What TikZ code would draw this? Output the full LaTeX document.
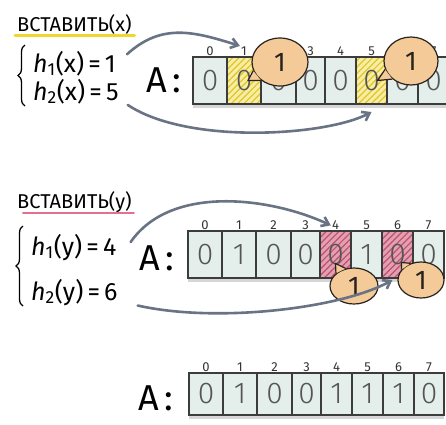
\documentclass[tikz,border=0pt]{standalone}
\usepackage{fontspec}
\setmainfont{Fira Sans}
\newfontfamily\thinfont{Fira Sans Light}
\usepackage{tikz}
\usetikzlibrary{arrows.meta, positioning, shapes.geometric, patterns.meta, decorations.pathreplacing, fit, backgrounds}
\definecolor{cellfill}{RGB}{228,238,234}
\definecolor{cellline}{RGB}{60,60,60}
\definecolor{digit}{RGB}{85,85,85}
\definecolor{xbg}{RGB}{247,238,165}
\definecolor{xline}{RGB}{226,196,40}
\definecolor{ybg}{RGB}{226,160,176}
\definecolor{yline}{RGB}{190,80,112}
\definecolor{bubfill}{RGB}{244,202,152}
\definecolor{bubline}{RGB}{40,35,30}
\definecolor{arrowc}{RGB}{105,115,132}
\definecolor{markx}{RGB}{240,215,45}
\definecolor{marky}{RGB}{228,112,142}
\tikzset{
  cell/.style={rectangle, draw=cellline, line width=1.1pt, fill=cellfill, minimum height=47pt,
               inner sep=0pt, outer sep=0pt, text=digit, font=\thinfont\fontsize{30}{32}\selectfont,
               label distance=1pt},
  hitx/.style={cell, fill=xbg, postaction={pattern={Lines[angle=45, distance=4.5pt, line width=1.2pt]},
               pattern color=xline}, postaction={draw=cellline, line width=1.1pt}},
  hity/.style={cell, fill=ybg, postaction={pattern={Lines[angle=45, distance=4.5pt, line width=1.2pt]},
               pattern color=yline}, postaction={draw=cellline, line width=1.1pt}},
  idx/.style={inner sep=1pt, text=black!80, font=\fontsize{13}{14}\selectfont},
  bub/.style={ellipse, draw=bubline, line width=1.2pt, fill=bubfill, inner sep=0pt,
              text=bubline, font=\fontsize{27}{29}\selectfont},
  bubedge/.style={draw=bubline, line width=1.2pt, line join=round},
  ptr/.style={-{Straight Barb[length=7pt, width=10pt]}, line width=2.6pt, draw=arrowc, line cap=round},
  title/.style={inner sep=0pt, font=\fontsize{20}{22}\selectfont},
  formula/.style={inner sep=0pt, font=\fontsize{25}{27}\selectfont},
  bigA/.style={inner sep=0pt, font=\fontsize{36}{38}\selectfont},
  brace/.style={decorate, decoration={brace, amplitude=7pt}, line width=1.3pt},
  rowshade/.style={fill=black!16, inner sep=0pt, yshift=-4pt},
}

\begin{document}
\begin{tikzpicture}[x=1pt, y=-1pt]
\useasboundingbox (0,0) rectangle (446,424);

% ========== вставить(x) ==========
\node[title, anchor=base west] (insx) at (17,31) {ВСТАВИТЬ(x)};
\draw[draw=markx, line width=3pt, line cap=round] ([shift={(-2,4)}]insx.base west) -- ([shift={(3,4)}]insx.base east);

\node[formula, anchor=base west] (hx1) at (33,72) {\textit{h}\textsubscript{1}(x)\,=\,1};
\node[formula, anchor=base west] (hx2) at (33,100) {\textit{h}\textsubscript{2}(x)\,=\,5};
\draw[brace] (25,106) -- (25,45);

\node[bigA] (ax) at (164,80) {A\hspace{5pt}:};

% Tablica A (pierwszy wiersz)
\node[cell, minimum width=34pt, label={[idx, name=ix0]above:0}] (x0) at (210,80.5) {0};
\node[hitx, minimum width=34pt, right=0pt of x0, label={[idx, name=ix1]above:1}] (x1) {0};
\node[cell, minimum width=35pt, right=0pt of x1] (x2) {0};
\node[cell, minimum width=29pt, right=0pt of x2, label={[idx, name=ix3]above:3}] (x3) {0};
\node[cell, minimum width=31pt, right=0pt of x3, label={[idx, name=ix4]above:4}] (x4) {0};
\node[hitx, minimum width=31pt, right=0pt of x4, label={[idx, name=ix5]above:5}] (x5) {0};
\node[cell, minimum width=31pt, right=0pt of x5] (x6) {0};
\node[cell, minimum width=31pt, right=0pt of x6, label={[idx, name=ix7]above:7}] (x7) {0};
\begin{scope}[on background layer]
\node[rowshade, fit=(x0)(x7)] (shx) {};
\end{scope}

% Dymki z jedynkami
\node[bub, minimum width=56pt, minimum height=48pt] (bx1) at (280,62) {1};
\fill[bubfill] (bx1.198) -- ([xshift=4pt]x1.center) -- (bx1.224) -- cycle;
\draw[bubedge] (bx1.198) -- ([xshift=4pt]x1.center) -- (bx1.224);
\node[bub, minimum width=54pt, minimum height=48pt] (bx5) at (411,61) {1};
\fill[bubfill] (bx5.198) -- ([xshift=6pt]x5.center) -- (bx5.224) -- cycle;
\draw[bubedge] (bx5.198) -- ([xshift=6pt]x5.center) -- (bx5.224);

\draw[ptr] ([shift={(11,-9)}]hx1.east) .. controls +(35,-32) and +(-45,-14) .. (ix1.north west);
\draw[ptr] ([shift={(9,1)}]hx2.south east) .. controls +(60,40) and +(-45,24) .. ([yshift=-8pt]x5.south);

% ========== вставить(y) ==========
\node[title, anchor=base west] (insy) at (17,208) {ВСТАВИТЬ(y)};
\draw[draw=marky, line width=2pt, line cap=round] ([shift={(6,5)}]insy.base west) -- ([shift={(2,5)}]insy.base east);

\node[formula, anchor=base west] (hy1) at (31,255) {\textit{h}\textsubscript{1}(y)\,=\,4};
\node[formula, anchor=base west] (hy2) at (31,300) {\textit{h}\textsubscript{2}(y)\,=\,6};
\draw[brace] (23,306) -- (23,226);

\node[bigA] (ay) at (157,258) {A\hspace{5pt}:};

% Tablica A (drugi wiersz)
\node[cell, minimum width=34pt, label={[idx, name=iy0]above:0}] (y0) at (205,254.5) {0};
\node[cell, minimum width=34pt, right=0pt of y0, label={[idx, name=iy1]above:1}] (y1) {1};
\node[cell, minimum width=35pt, right=0pt of y1, label={[idx, name=iy2]above:2}] (y2) {0};
\node[cell, minimum width=29pt, right=0pt of y2, label={[idx, name=iy3]above:3}] (y3) {0};
\node[hity, minimum width=31pt, right=0pt of y3, label={[idx, name=iy4]above:4}] (y4) {0};
\node[cell, minimum width=31pt, right=0pt of y4, label={[idx, name=iy5]above:5}] (y5) {1};
\node[hity, minimum width=31pt, right=0pt of y5, label={[idx, name=iy6]above:6}] (y6) {0};
\node[cell, minimum width=31pt, right=0pt of y6, label={[idx, name=iy7]above:7}] (y7) {0};
\begin{scope}[on background layer]
\node[rowshade, fit=(y0)(y7)] (shy) {};
\end{scope}

\node[bub, minimum width=48pt, minimum height=36pt] (by4) at (354,286) {1};
\fill[bubfill] (by4.115) -- ([yshift=-9pt]y4.center) -- (by4.145) -- cycle;
\draw[bubedge] (by4.115) -- ([yshift=-9pt]y4.center) -- (by4.145);
\node[bub, minimum width=46pt, minimum height=36pt] (by6) at (421,280) {1};
\fill[bubfill] (by6.122) -- ([shift={(4,8)}]y6.center) -- (by6.152) -- cycle;
\draw[bubedge] (by6.122) -- ([shift={(4,8)}]y6.center) -- (by6.152);

\draw[ptr] ([shift={(14,-5)}]hy1.east) .. controls +(40,-58) and +(-60,-28) .. (iy4.west);
\draw[ptr] ([shift={(20,0)}]hy2.south east) .. controls +(80,18) and +(-50,28) .. ([xshift=-5pt]by6.west);

% ========== wynik ==========
\node[bigA] (ar) at (156,398) {A\hspace{5pt}:};

\node[cell, minimum height=42pt, minimum width=34pt, label={[idx, name=ir0]above:0}] (r0) at (206,394) {0};
\node[cell, minimum height=42pt, minimum width=34pt, right=0pt of r0, label={[idx, name=ir1]above:1}] (r1) {1};
\node[cell, minimum height=42pt, minimum width=35pt, right=0pt of r1, label={[idx, name=ir2]above:2}] (r2) {0};
\node[cell, minimum height=42pt, minimum width=29pt, right=0pt of r2, label={[idx, name=ir3]above:3}] (r3) {0};
\node[cell, minimum height=42pt, minimum width=31pt, right=0pt of r3, label={[idx, name=ir4]above:4}] (r4) {1};
\node[cell, minimum height=42pt, minimum width=31pt, right=0pt of r4, label={[idx, name=ir5]above:5}] (r5) {1};
\node[cell, minimum height=42pt, minimum width=31pt, right=0pt of r5, label={[idx, name=ir6]above:6}] (r6) {1};
\node[cell, minimum height=42pt, minimum width=30pt, right=0pt of r6, label={[idx, name=ir7]above:7}] (r7) {0};
\begin{scope}[on background layer]
\node[rowshade, fit=(r0)(r7)] (shr) {};
\end{scope}

\end{tikzpicture}
\end{document}
